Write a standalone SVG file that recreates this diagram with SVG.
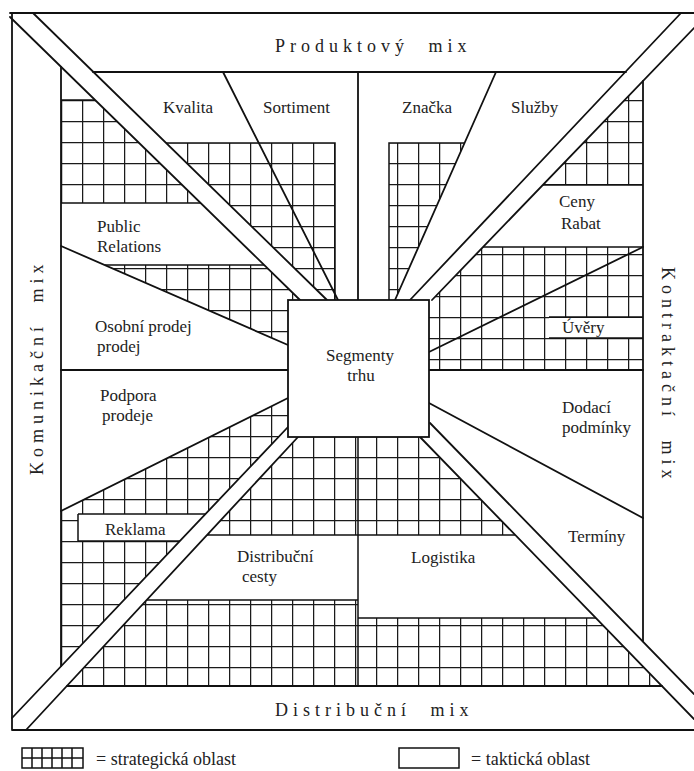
<svg xmlns="http://www.w3.org/2000/svg" width="694" height="771" viewBox="0 0 694 771">
<defs>
<pattern id="g" patternUnits="userSpaceOnUse" x="61" y="100" width="21" height="21">
<path d="M0 0.6H21M0.6 0V21" stroke="#1a1a1a" stroke-width="1.3" fill="none"/>
</pattern>
<pattern id="gR" patternUnits="userSpaceOnUse" x="61" y="338" width="21" height="21">
<path d="M0 0.6H21M0.6 0V21" stroke="#1a1a1a" stroke-width="1.3" fill="none"/>
</pattern>
<style>
.gr{fill:url(#g);stroke:none}
.grR{fill:url(#gR);stroke:none}
.ln{fill:none;stroke:#111;stroke-width:1.8;stroke-linecap:round;stroke-linejoin:round}
.tl{fill:none;stroke:#111;stroke-width:1.5}
.w{fill:#fff;stroke:none}
.lb{font-family:"Liberation Serif","DejaVu Serif",serif;font-size:17px;fill:#222}
.mx{font-family:"Liberation Serif","DejaVu Serif",serif;font-size:18px;fill:#222;letter-spacing:5px;word-spacing:10px}
.lg{font-family:"Liberation Serif","DejaVu Serif",serif;font-size:18px;fill:#222}
</style>
</defs>
<rect width="694" height="771" fill="#fff"/>
<g id="strategic-grid">
<polygon class="gr" points="61,100 95,100 201,203 61,203"/>
<polygon class="gr" points="166,143 335,143 335,300 327,300"/>
<polygon class="gr" points="105,265 264,265 300,300 288,300 288,345"/>
<polygon class="gr" points="389,143 464.5,143 395,300 389,300"/>
<polygon class="gr" points="643,81 643,185 543,185"/>
<polygon class="grR" points="483,247 643,247 643,370 429,370 429,300 432,300"/>
<polygon class="gr" points="298,437 420,437 662,686 67,686"/>
<polygon class="gr" points="61,511 288,398 288,427 61,666"/>
<rect class="w" x="549" y="318" width="94" height="20"/>
<polygon class="w" points="78,514 205.5,514 180,541 78,541"/>
<polygon class="w" points="207,535 358,535 358,600 147,600"/>
<polygon class="w" points="358,535 515,535 596,618 358,618"/>
</g>
<g id="connectors">
<path class="ln" d="M10 13H694M12 13V730M12 730H694"/>
<path class="ln" d="M93 72H626M61 67V666M643 81V641M67 686H662"/>
<path class="ln" d="M10 17L300 300M33 13L327 300M681 13L410 300M694 28L432 300"/>
<path class="ln" d="M12 718L288 427M26 730L298 437M430 423L694 694M420 437L694 719"/>
<path class="ln" d="M223 72L338 300M358 72V300M496 72L395 300"/>
<path class="tl" d="M166 143H335V300M389 300V143H464.5"/>
<path class="tl" d="M61 100H95M61 203H201M105 265H264"/>
<path class="ln" d="M61 246L288 345M61 370H288M61 511L288 398"/>
<path class="tl" d="M78 514H205.5M78 541H180M78 514V541"/>
<path class="tl" d="M543 185H643M483 247H643M549 317H643M549 338H643"/>
<path class="ln" d="M429 352L643 247M429 370H643M429 403L643 518"/>
<path class="tl" d="M207 535H358M147 600H358M358 437V686M358 535H515M358 618H596"/>
</g>
<g id="segmenty-trhu">
<rect x="288" y="300" width="141" height="137" fill="#fff" stroke="#111" stroke-width="1.8"/>
<text class="lb" x="360" y="361" text-anchor="middle">Segmenty</text>
<text class="lb" x="361" y="381" text-anchor="middle">trhu</text>
</g>
<g id="produktovy-mix">
<text class="mx" x="275" y="52">Produktový mix</text>
<text class="lb" x="163" y="113">Kvalita</text>
<text class="lb" x="263" y="113">Sortiment</text>
<text class="lb" x="402" y="113">Značka</text>
<text class="lb" x="511" y="113">Služby</text>
</g>
<g id="komunikacni-mix">
<text class="mx" transform="translate(43,475) rotate(-90)">Komunikační mix</text>
<text class="lb" x="97" y="232">Public</text>
<text class="lb" x="97" y="252">Relations</text>
<text class="lb" x="95" y="332">Osobní prodej</text>
<text class="lb" x="97" y="352">prodej</text>
<text class="lb" x="100" y="401">Podpora</text>
<text class="lb" x="102" y="421">prodeje</text>
<text class="lb" x="105" y="535">Reklama</text>
</g>
<g id="kontraktacni-mix">
<text class="mx" transform="translate(662,267) rotate(90)">Kontraktační mix</text>
<text class="lb" x="559" y="207">Ceny</text>
<text class="lb" x="561" y="229">Rabat</text>
<text class="lb" x="562" y="333">Úvěry</text>
<text class="lb" x="562" y="413">Dodací</text>
<text class="lb" x="562" y="433">podmínky</text>
<text class="lb" x="568" y="542">Termíny</text>
</g>
<g id="distribucni-mix">
<text class="mx" x="275" y="716">Distribuční mix</text>
<text class="lb" x="237" y="562">Distribuční</text>
<text class="lb" x="242" y="582">cesty</text>
<text class="lb" x="411" y="563">Logistika</text>
</g>
<g id="legend">
<rect x="22" y="748" width="61" height="20" fill="#fff" stroke="#111" stroke-width="1.5"/>
<path class="tl" d="M32 748V768M42 748V768M52 748V768M62 748V768M72 748V768M22 758H83"/>
<text class="lg" x="96" y="765">= strategická oblast</text>
<rect x="399" y="748" width="60" height="20" fill="#fff" stroke="#111" stroke-width="1.5"/>
<text class="lg" x="471" y="765">= taktická oblast</text>
</g>
</svg>
